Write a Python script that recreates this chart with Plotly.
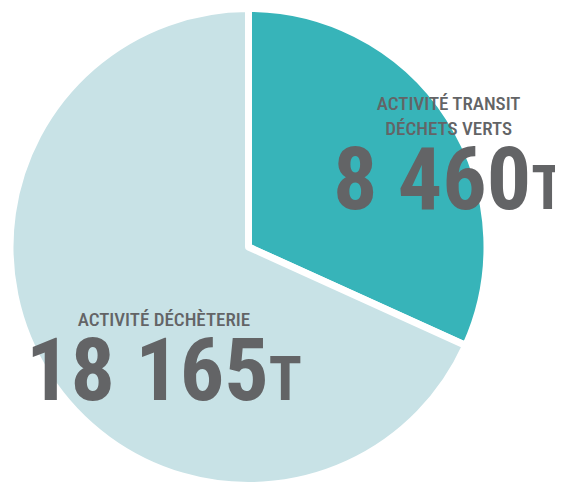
import plotly.graph_objects as go

labels = ["ACTIVITÉ TRANSIT<br>DÉCHETS VERTS", "ACTIVITÉ DÉCHÈTERIE"]
values = [8460, 18165]
unit = "T"
colors = ["#37b4b9", "#c8e2e6"]

W, H = 563, 483
OFF = 8  # page body margin offset
TXT = "#636466"

def fmt(v):
    return f"{v:,}".replace(",", " ")

def px(x):
    return (x - OFF) / W

def py(y):
    return 1 - (y - OFF) / H

# pie: visible centre (248.5, 247) in window px, radius incl. white border
cx, cy, r = 248.5, 247, 238.5
fig = go.Figure(go.Pie(
    labels=labels,
    values=values,
    sort=False,
    direction="clockwise",
    rotation=0,
    marker=dict(colors=colors, line=dict(color="white", width=7)),
    textinfo="none",
    hoverinfo="label+value",
    showlegend=False,
    domain=dict(x=[px(cx - r), px(cx + r)], y=[py(cy + r), py(cy - r)]),
))

# block anchor: centre x, bottom y (window px)
block_pos = [(448, 232), (164, 423)]

for lab, val, (bx, by) in zip(labels, values, block_pos):
    text = (
        f"{lab}<br> <br> <br>"
        f"<span style='font-size:88px;font-weight:bold'>{fmt(val)}</span>"
        f"<span style='font-size:61px;font-weight:bold'>{unit}</span>"
    )
    fig.add_annotation(
        x=px(bx), y=py(by), xref="paper", yref="paper",
        text=text, showarrow=False, xanchor="center", yanchor="bottom", align="center",
        font=dict(family="Roboto Condensed, Liberation Sans Narrow, Liberation Sans",
                  size=19, color=TXT, weight=500),
    )

fig.update_layout(
    width=W, height=H,
    margin=dict(l=0, r=0, t=0, b=0),
    paper_bgcolor="white",
    plot_bgcolor="white",
)

fig.write_html("out.html")
